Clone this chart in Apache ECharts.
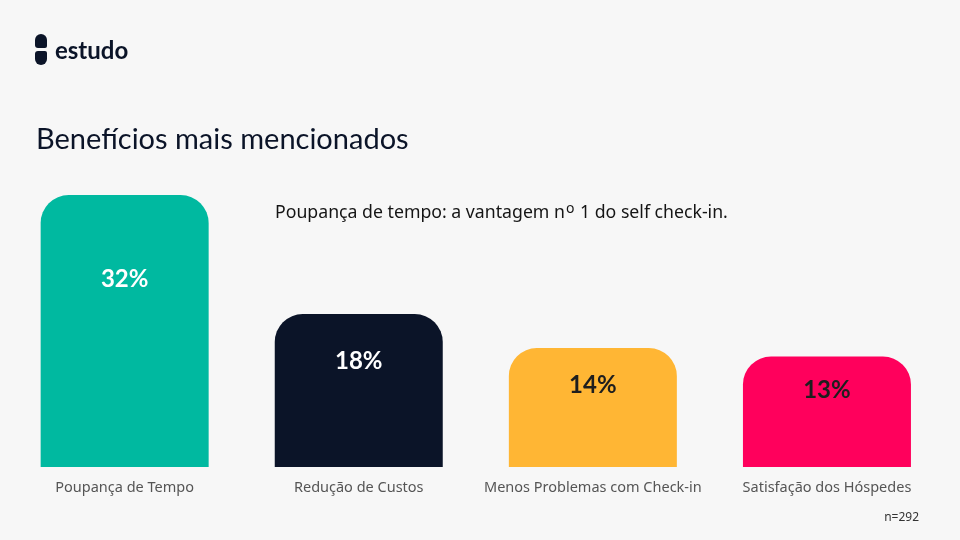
<!DOCTYPE html>
<html>
<head>
<meta charset="utf-8">
<script src="https://cdn.jsdelivr.net/npm/echarts@6/dist/echarts.min.js"></script>
<style>
  html, body { margin: 0; padding: 0; background: #F7F7F7; }
  #chart { width: 960px; height: 540px; }
</style>
</head>
<body>
<div id="chart"></div>
<script>
// ---- data ----
const categories = ['Poupança de Tempo', 'Redução de Custos', 'Menos Problemas com Check-in', 'Satisfação dos Hóspedes'];
const values = [32, 18, 14, 13];
const valueLabels = ['32%', '18%', '14%', '13%'];
const sampleNote = 'n=292';
const titleText = 'Benefícios mais mencionados';
const brandText = 'estudo';

// ---- styles ----
const barColors = ['#00B9A0', '#0B1428', '#FFB634', '#FF005C'];
const labelColors = ['#FFFFFF', '#FFFFFF', '#1E1E1E', '#1E1E1E'];
const navy = '#0B1428';

const chart = echarts.init(document.getElementById('chart'), null, { renderer: 'canvas' });

const option = {
  backgroundColor: '#F7F7F7',
  animation: false,
  title: [
    {
      text: titleText,
      left: 36, top: 125, padding: 0,
      textStyle: { fontFamily: 'Lato', fontWeight: 'normal', fontSize: 29, color: navy }
    },
    {
      text: 'Poupança de tempo: a vantagem n{sup|o} 1 do self check-in.',
      left: 275, top: 202, padding: 0,
      textStyle: {
        fontFamily: 'Noto Sans', fontWeight: 'normal', fontSize: 17.7, color: '#151515',
        rich: {
          sup: { fontFamily: 'Noto Sans', fontSize: 14, color: '#151515', verticalAlign: 'top', lineHeight: 22, padding: [0, 1, 8, 1] }
        }
      }
    },
    {
      text: sampleNote,
      right: 41, top: 512, padding: 0,
      textStyle: { fontFamily: 'Noto Sans', fontWeight: 'normal', fontSize: 12, color: '#333' }
    }
  ],
  graphic: [
    { type: 'rect', shape: { x: 35, y: 34, width: 12, height: 14, r: [6, 6, 2, 3] }, style: { fill: navy } },
    { type: 'rect', shape: { x: 35, y: 51, width: 12, height: 14, r: [3, 2, 6, 6] }, style: { fill: navy } },
    {
      type: 'text', left: 55, top: 39,
      style: { text: brandText, font: 'bold 24px Lato', fill: navy }
    }
  ],
  grid: { left: 7.6, right: 16, top: 195, bottom: 73, containLabel: false },
  xAxis: {
    type: 'category',
    data: categories,
    axisLine: { show: false },
    axisTick: { show: false },
    axisLabel: { color: '#555', fontFamily: 'Noto Sans', fontSize: 14.5, margin: 13, interval: 0 }
  },
  yAxis: {
    type: 'value', min: 0, max: 32,
    show: false,
    splitLine: { show: false }
  },
  series: [{
    type: 'bar',
    barWidth: 168,
    data: values.map((v, i) => ({
      value: v,
      itemStyle: { color: barColors[i], borderRadius: [28, 28, 0, 0] },
      label: { color: labelColors[i] }
    })),
    label: {
      show: true,
      position: ['50%', '31%'],
      align: 'center',
      verticalAlign: 'middle',
      fontFamily: 'Lato',
      fontWeight: 'bold',
      fontSize: 24,
      formatter: p => valueLabels[p.dataIndex]
    }
  }]
};

chart.setOption(option);
</script>
</body>
</html>
